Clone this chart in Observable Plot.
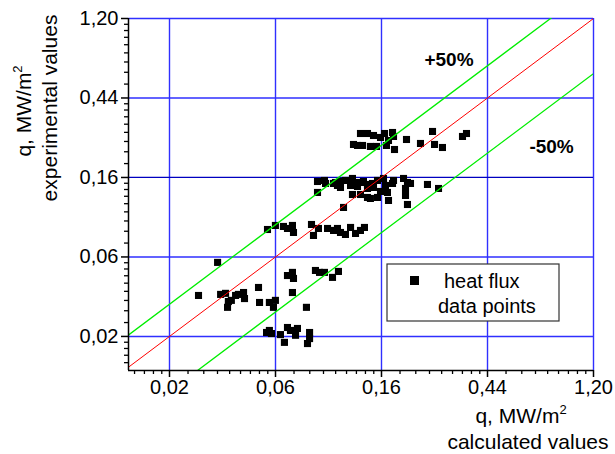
<!DOCTYPE html>
<html><head><meta charset="utf-8">
<script src="https://cdn.jsdelivr.net/npm/d3@7"></script>
<script src="https://cdn.jsdelivr.net/npm/@observablehq/plot@0.6"></script>
<style>body{margin:0;background:#fff}</style>
</head><body><div id="chart"></div>
<script>
// calculated heat flux (x) and experimental heat flux (y), MW/m2
const xCalc = [0.1247,0.1332,0.1358,0.1423,0.1463,0.1506,0.1549,0.1609,0.1671,0.1735,0.1802,0.1836,0.1819,0.2056,0.2346,0.2628,0.2678,0.2887,0.3487,0.3621,0.1702,0.1295,
0.0888,0.0888,0.0948,0.0958,0.1033,0.1072,0.1103,0.1156,0.1213,0.1235,0.1235,0.1295,0.1295,0.1332,0.137,0.1423,0.1423,0.1423,0.1463,0.1492,0.1506,0.1564,0.1564,0.1609,0.1655,0.1686,0.1718,0.1735,0.1802,0.1819,0.1999,0.2037,0.2037,0.2075,0.2075,0.2135,0.2506,0.2781,0.1135,0.1052,0.1103,0.1235,0.137,
0.0554,0.0597,0.0644,0.0669,0.0701,0.0708,0.0839,0.0855,0.0896,0.0976,0.1033,0.1072,0.1103,0.1156,0.1213,0.1271,0.1332,0.1383,
0.0669,0.0701,0.0708,0.0871,0.0905,0.0948,0.1023,0.1082,
0.0346,
0.0289,0.0356,0.0373,0.0383,0.038,0.0394,0.041,0.0421,0.0442,0.0446,0.0509,0.0514,0.0564,0.0597,0.0586,0.0701,0.08,
0.0549,0.0564,0.0575,0.0626,0.065,0.0669,0.0688,0.0722,0.0735,0.0808,0.0824,0.0824];
const yExp = [0.246,0.2824,0.2429,0.2824,0.2399,0.2754,0.2399,0.2686,0.2824,0.2586,0.286,0.2309,0.272,0.2619,0.2491,0.2897,0.246,0.2368,0.272,0.2824,0.2429,0.2429,
0.1544,0.1345,0.1564,0.1506,0.1506,0.1469,0.1544,0.1564,0.1469,0.1604,0.1311,0.1525,0.145,0.1311,0.1544,0.1487,0.1414,0.1263,0.1247,0.1506,0.1432,0.1564,0.1263,0.1362,0.1604,0.1469,0.1345,0.1216,0.1506,0.1564,0.1604,0.1414,0.1295,0.1525,0.1156,0.1506,0.1487,0.1414,0.1114,0.1525,0.1432,0.1564,0.1525,
0.0844,0.0888,0.0877,0.0855,0.0888,0.0813,0.0899,0.0783,0.0855,0.0855,0.0834,0.0855,0.0813,0.0793,0.0866,0.0803,0.0834,0.0866,
0.0473,0.0492,0.0456,0.0504,0.0492,0.0492,0.0462,0.0498,
0.0558,
0.0368,0.0373,0.0378,0.0341,0.0317,0.0346,0.0368,0.0373,0.0382,0.0354,0.0407,0.0337,0.0337,0.0346,0.0317,0.0382,0.0317,
0.0231,0.0237,0.0228,0.0225,0.0204,0.0246,0.0237,0.0223,0.0243,0.0201,0.0214,0.0231];

const majorTicks = [0.02198, 0.05975, 0.1624, 0.4415, 1.2];
const majorLabels = ["0,02", "0,06", "0,16", "0,44", "1,20"];
const xDomain = [0.01493, 1.2];
const yDomain = [0.01432, 1.2];
const refRatios = [1, 1.5, 0.5];
const refColors = ["#ff0000", "#00ee00", "#00ee00"];
const refX = [0.005, 2];
const bandLabels = [{t: "+50%", x: 0.307, y: 0.712}, {t: "-50%", x: 0.808, y: 0.238}];

const ticks = majorTicks.map((v, i) => ({v, label: majorLabels[i]}));
const ext = [majorTicks[0] / Math.E, ...majorTicks];
const minorTicks = [];
for (let i = 0; i < ext.length - 1; i++) {
  for (let k = 1; k < 9; k++) minorTicks.push(ext[i] + (ext[i + 1] - ext[i]) * k / 9);
}
const xMinor = minorTicks.filter(v => v >= xDomain[0]);
const yMinor = minorTicks.filter(v => v >= yDomain[0]);
const pts = xCalc.map((x, i) => ({x, y: yExp[i]}));
const font = "'Liberation Sans', Arial, sans-serif";

const plot = Plot.plot({
  width: 615, height: 454,
  marginLeft: 128, marginRight: 22, marginTop: 18, marginBottom: 84,
  style: {fontFamily: font, fontSize: "20px", background: "#fff", color: "#000"},
  x: {type: "log", domain: xDomain, axis: null},
  y: {type: "log", domain: yDomain, axis: null},
  marks: [
    Plot.gridX(majorTicks, {stroke: "#2f2fff", strokeOpacity: 1, strokeWidth: 1.4}),
    Plot.gridY(majorTicks.filter(v => v !== 0.1624), {stroke: "#2f2fff", strokeOpacity: 1, strokeWidth: 1.4}),
    Plot.gridY([0.1624], {stroke: "#0000c0", strokeOpacity: 1, strokeWidth: 1.2}),
    Plot.dot(pts, {x: "x", y: "y", symbol: "square", r: 4, fill: "#000", stroke: null}),
    ...refRatios.map((r, i) => Plot.line(refX.map(x => ({x, y: x * r})), {x: "x", y: "y", stroke: refColors[i], strokeWidth: i === 0 ? 1 : 1.3, clip: true})),
    Plot.text(bandLabels, {x: "x", y: "y", text: "t", fontWeight: "bold", fontSize: 19, fill: "#000"}),
    Plot.ruleX([xDomain[0]], {stroke: "#000", strokeWidth: 1.5}),
    Plot.ruleY([yDomain[0]], {stroke: "#000", strokeWidth: 1.5}),
    Plot.axisX(xMinor, {anchor: "bottom", tickSize: 4, strokeWidth: 1.3, tickFormat: () => "", label: null}),
    Plot.axisY(yMinor, {anchor: "left", tickSize: 4, strokeWidth: 1.3, tickFormat: () => "", label: null}),
    Plot.axisX(majorTicks, {anchor: "bottom", tickSize: 7, strokeWidth: 1.5, tickFormat: () => "", label: null}),
    Plot.axisY(majorTicks, {anchor: "left", tickSize: 7, strokeWidth: 1.5, tickFormat: () => "", label: null}),
    Plot.text(ticks, {x: "v", text: "label", frameAnchor: "bottom", lineAnchor: "top", dy: 9, fontSize: 20, fill: "#000"}),
    Plot.text(ticks, {y: "v", text: "label", frameAnchor: "left", textAnchor: "end", dx: -10, fontSize: 20, fill: "#000"})
  ]
});
document.getElementById("chart").appendChild(plot);

const svg = d3.select(plot);
function unitLabel(g, x, y, anchor, rotate) {
  const t = g.append("text").attr("font-family", font).attr("font-size", 21).attr("fill", "#000")
    .attr("text-anchor", anchor)
    .attr("transform", `translate(${x},${y})` + (rotate ? " rotate(-90)" : ""));
  t.append("tspan").text("q, MW/m");
  t.append("tspan").attr("font-size", 13).attr("dy", -9).text("2");
  return t;
}
unitLabel(svg, 521, 423, "middle", false);
svg.append("text").attr("font-family", font).attr("font-size", 21).attr("text-anchor", "middle")
  .attr("x", 528).attr("y", 449).text("calculated values");
unitLabel(svg, 31, 111, "middle", true);
svg.append("text").attr("font-family", font).attr("font-size", 21).attr("text-anchor", "middle")
  .attr("transform", "translate(57,108) rotate(-90)").text("experimental values");

// legend
const lg = svg.append("g").attr("text-anchor", "start");
lg.append("rect").attr("x", 387).attr("y", 264).attr("width", 172).attr("height", 57)
  .attr("fill", "#fff").attr("stroke", "#333").attr("stroke-width", 1.2);
lg.append("rect").attr("x", 410).attr("y", 276).attr("width", 9).attr("height", 9).attr("fill", "#000");
lg.append("text").attr("font-family", font).attr("font-size", 20).attr("text-anchor", "start").attr("x", 444).attr("y", 288).text("heat flux");
lg.append("text").attr("font-family", font).attr("font-size", 20).attr("text-anchor", "start").attr("x", 438).attr("y", 313).text("data points");
</script></body></html>
